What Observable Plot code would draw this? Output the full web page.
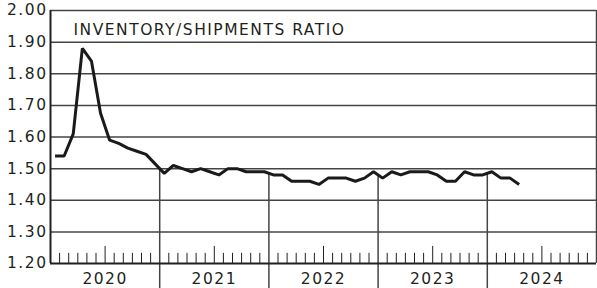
<!DOCTYPE html>
<html>
<head>
<meta charset="utf-8">
<script src="https://cdn.jsdelivr.net/npm/d3@7"></script>
<script src="https://cdn.jsdelivr.net/npm/@observablehq/plot@0.6"></script>
<style>
  html, body { margin: 0; padding: 0; background: #fff; }
  svg text { letter-spacing: 1.5px; }
</style>
</head>
<body>
<div id="chart"></div>
<script>
const title = "INVENTORY/SHIPMENTS RATIO";
const years = [2020, 2021, 2022, 2023, 2024];
const ratio2020 = [1.54, 1.54, 1.61, 1.88, 1.84, 1.675, 1.59, 1.58, 1.565, 1.555, 1.545, 1.515];
const ratio2021 = [1.485, 1.51, 1.50, 1.49, 1.50, 1.49, 1.48, 1.50, 1.50, 1.49, 1.49, 1.49];
const ratio2022 = [1.48, 1.48, 1.46, 1.46, 1.46, 1.45, 1.47, 1.47, 1.47, 1.46, 1.47, 1.49];
const ratio2023 = [1.47, 1.49, 1.48, 1.49, 1.49, 1.49, 1.48, 1.46, 1.46, 1.49, 1.48, 1.48];
const ratio2024 = [1.49, 1.47, 1.47, 1.45];
const yTicks = [1.2, 1.3, 1.4, 1.5, 1.6, 1.7, 1.8, 1.9, 2.0];

const series = [ratio2020, ratio2021, ratio2022, ratio2023, ratio2024];
const data = [];
series.forEach((arr, yi) => arr.forEach((v, m) => data.push({i: yi * 12 + m, v})));

const nMonths = years.length * 12;
const monthBounds = d3.range(1, nMonths).filter(k => k % 12 !== 0);
const yearBounds = d3.range(12, nMonths, 12);
const drop = yearBounds.map(k => {
  const a = data.find(d => d.i === k - 1), b = data.find(d => d.i === k);
  return {k, v: (a.v + b.v) / 2};
});
const yearLabels = years.map((y, idx) => ({x: idx * 12 + 6, label: String(y)}));

const ink = "#231f20";
const grid = "#444444";

const chart = Plot.plot({
  width: 597,
  height: 288,
  marginLeft: 50,
  marginRight: 1,
  marginTop: 10,
  marginBottom: 25,
  x: {domain: [0, nMonths], axis: null},
  y: {domain: [1.2, 2.0], axis: null},
  style: {fontFamily: "'DejaVu Sans', sans-serif", fontSize: "15.5px", color: ink, background: "#fff"},
  marks: [
    Plot.ruleY(yTicks.slice(1), {stroke: grid, strokeWidth: 1.5}),
    Plot.ruleX([nMonths], {stroke: grid, strokeWidth: 1.5}),
    Plot.ruleX(monthBounds, {x: d => d, y1: 1.2, y2: d => d % 6 === 0 ? 1.254 : 1.232, stroke: ink, strokeWidth: 1}),
    Plot.ruleX(drop, {x: "k", y1: "v", y2: 1.12, stroke: grid, strokeWidth: 1.5}),
    Plot.ruleY([1.2], {stroke: ink, strokeWidth: 2}),
    Plot.ruleX([0], {y1: 1.2, y2: 2.0, stroke: ink, strokeWidth: 2}),
    Plot.line(data, {x: d => d.i + 0.5, y: "v", stroke: "#1a1a1a", strokeWidth: 3, strokeLinejoin: "miter", strokeLinecap: "butt"}),
    Plot.text(yTicks, {x: 0, y: d => d, text: d => d.toFixed(2), textAnchor: "end", dx: -3, fill: ink}),
    Plot.text(yearLabels, {x: "x", text: "label", frameAnchor: "bottom", lineAnchor: "bottom", dy: 20, fill: ink}),
    Plot.text([title], {frameAnchor: "top-left", textAnchor: "start", lineAnchor: "top", dx: 23, dy: 13, fill: ink})
  ]
});
document.getElementById("chart").appendChild(chart);
</script>
</body>
</html>
